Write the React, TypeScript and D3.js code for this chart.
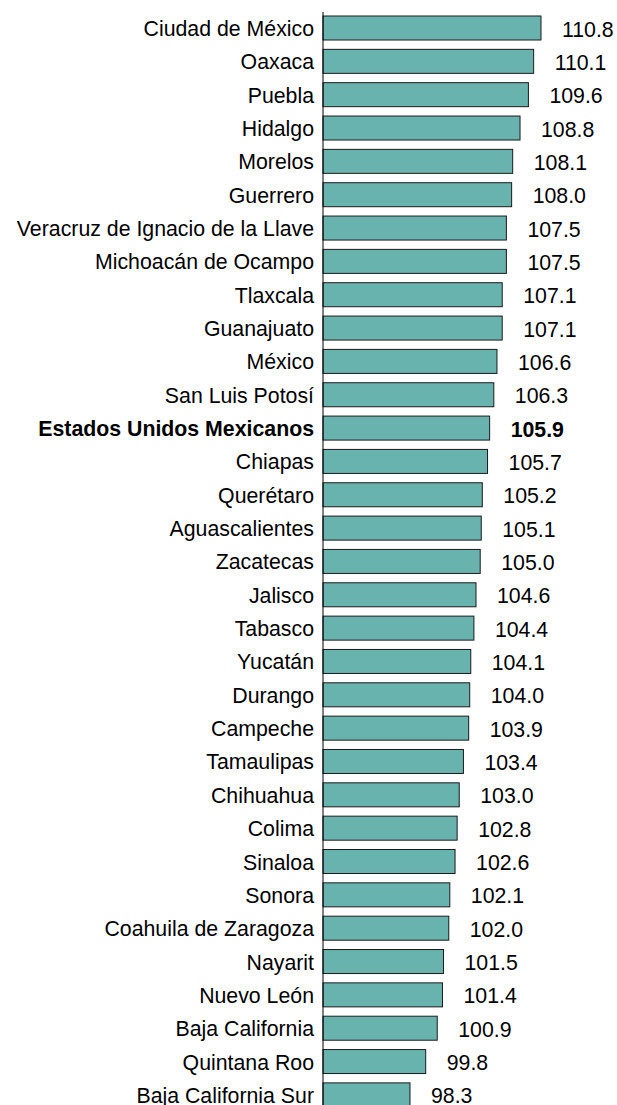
import React from "react";
import * as d3 from "d3";

const categories = [
  "Ciudad de México", "Oaxaca", "Puebla", "Hidalgo", "Morelos", "Guerrero",
  "Veracruz de Ignacio de la Llave", "Michoacán de Ocampo", "Tlaxcala", "Guanajuato",
  "México", "San Luis Potosí", "Estados Unidos Mexicanos", "Chiapas", "Querétaro",
  "Aguascalientes", "Zacatecas", "Jalisco", "Tabasco", "Yucatán", "Durango", "Campeche",
  "Tamaulipas", "Chihuahua", "Colima", "Sinaloa", "Sonora", "Coahuila de Zaragoza",
  "Nayarit", "Nuevo León", "Baja California", "Quintana Roo", "Baja California Sur",
];
const values = [
  110.8, 110.1, 109.6, 108.8, 108.1, 108.0, 107.5, 107.5, 107.1, 107.1, 106.6, 106.3,
  105.9, 105.7, 105.2, 105.1, 105.0, 104.6, 104.4, 104.1, 104.0, 103.9, 103.4, 103.0,
  102.8, 102.6, 102.1, 102.0, 101.5, 101.4, 100.9, 99.8, 98.3,
];
const highlight = "Estados Unidos Mexicanos";

export default function App() {
  const W = 617, H = 1105;
  const x = d3.scaleLinear().domain([90, 111]).range([323, 323 + 21 * 10.48]);
  const step = 33.34;
  const y = d3.scaleBand<string>()
    .domain(categories)
    .range([16 - 0.14 * step, 16 - 0.14 * step + step * 33])
    .paddingInner(0.28)
    .paddingOuter(0.14);
  const font = "'Liberation Sans', Arial, sans-serif";
  const fs = 21.3;
  return (
    <svg width={W} height={H} style={{ position: "absolute", left: 0, top: 0, background: "#fff" }}>
      {categories.map((c, i) => {
        const yy = y(c)!;
        const bw = y.bandwidth();
        const v = values[i];
        const bold = c === highlight;
        return (
          <g key={c}>
            <rect x={x(90)} y={yy} width={x(v) - x(90)} height={bw} fill="#69B3AE" stroke="#1a1a1a" strokeWidth={1} />
            <text x={314} y={yy + bw / 2 + 8} textAnchor="end" fontFamily={font} fontSize={fs} fontWeight={bold ? "bold" : "normal"} fill="#000">{c}</text>
            <text x={x(v) + 21} y={yy + bw / 2 + 8.5} textAnchor="start" fontFamily={font} fontSize={fs} fontWeight={bold ? "bold" : "normal"} fill="#000">{v.toFixed(1)}</text>
          </g>
        );
      })}
      <line x1={x(90)} x2={x(90)} y1={12} y2={H} stroke="#000" strokeWidth={1} />
    </svg>
  );
}
